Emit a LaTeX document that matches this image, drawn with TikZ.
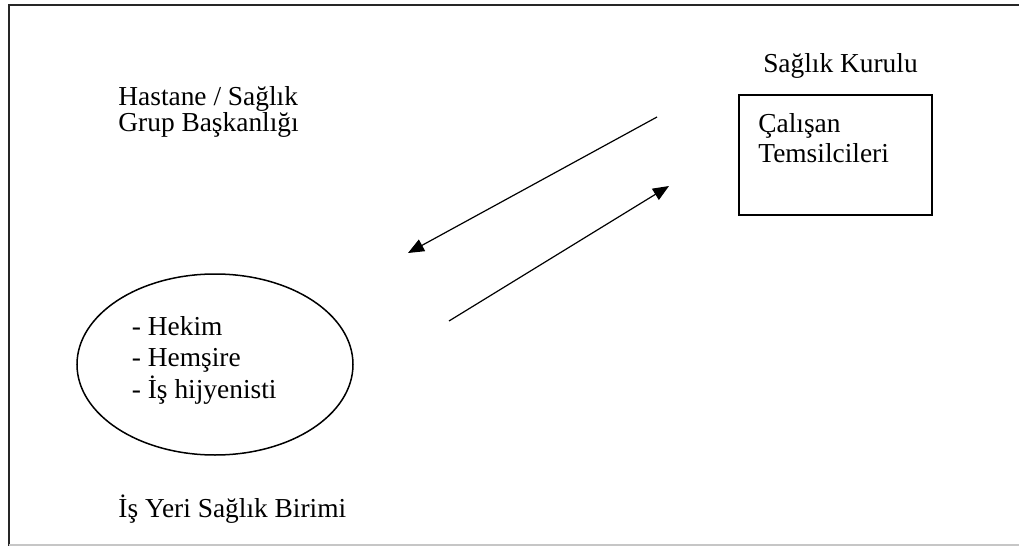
\documentclass[tikz,border=0pt]{standalone}
\usepackage{fontspec}
\setmainfont{Liberation Serif}
\usetikzlibrary{arrows.meta,shapes.geometric}

\begin{document}
\begin{tikzpicture}[x=0.5pt, y=-0.5pt, >={Triangle[length=8pt,width=6.5pt]}]

    % stiller
    \tikzstyle{yazi}=[inner sep=0pt, align=left, font=\fontsize{13.7}{15.7}\selectfont]
    \tikzstyle{kutu}=[draw, line width=0.75pt, minimum width=96.5pt, minimum height=60pt, inner sep=0pt]
    \tikzstyle{elips}=[ellipse, draw, line width=0.75pt, minimum width=138pt, minimum height=90.5pt, inner sep=0pt]
    \tikzstyle{ok}=[->, line width=0.6pt]

    \useasboundingbox (0,0) rectangle (1019,546);

    % cerceve
    \draw[line width=1pt, black!85] (1019,5) -- (8.5,5) -- (8.5,546);
    \draw[line width=0.6pt, gray!45] (8.5,545) -- (1019,545);

    % saglik kurulu
    \node[yazi, anchor=base] (kurul) at (840.5,72) {Sağlık Kurulu};
    \node[kutu] (temsilci) at (835.5,155) {};
    \node[yazi, anchor=base west] (calisan) at (758,162) {Çalışan\\[-1.2pt]Temsilcileri};

    % hastane
    \node[yazi, anchor=base west] (hastane) at (118,131) {Hastane / Sağlık\\[-2.7pt]Grup Başkanlığı};

    % is yeri saglik birimi
    \node[elips] (birim) at (215,364.5) {};
    \node[yazi, anchor=base west] (personel) at (131.5,398) {- Hekim\\- Hemşire\\- İş hijyenisti};
    \node[yazi, anchor=base west] (birimad) at (118,517) {İş Yeri Sağlık Birimi};

    % oklar
    \coordinate (k1) at (657,117);
    \coordinate (h1) at (408,253);
    \coordinate (b2) at (449,321);
    \coordinate (k2) at (669,186);
    \draw[ok] (k1) -- (h1);
    \draw[ok] (b2) -- (k2);

\end{tikzpicture}
\end{document}
